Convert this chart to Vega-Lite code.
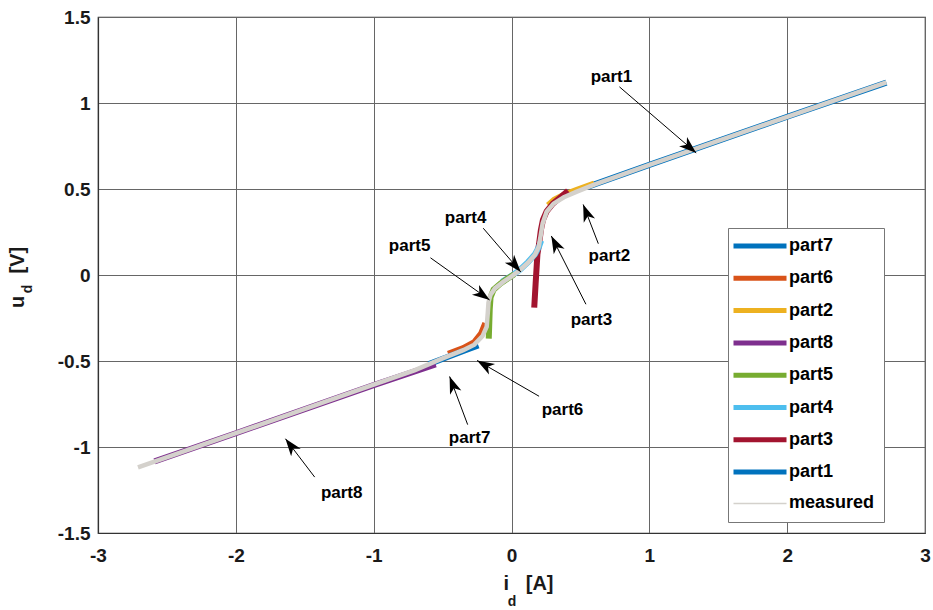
{
  "$schema": "https://vega.github.io/schema/vega-lite/v6.json",
  "width": 827,
  "height": 516,
  "autosize": {"type": "none"},
  "padding": {"left": 98, "top": 17, "right": 8, "bottom": 77},
  "background": "white",
  "config": {
    "font": "Liberation Sans",
    "view": {"stroke": "#333333", "strokeWidth": 1.2},
    "axis": {
      "labelFont": "Liberation Sans",
      "labelFontSize": 19,
      "labelFontWeight": "bold",
      "labelColor": "#1a1a1a",
      "titleFont": "Liberation Sans",
      "titleFontSize": 20,
      "titleFontWeight": "bold",
      "titleColor": "#1a1a1a",
      "grid": true,
      "gridColor": "#666666",
      "gridWidth": 1,
      "ticks": false,
      "domainColor": "#333333",
      "domainWidth": 1.2,
      "labelFlush": false,
      "labelOverlap": false
    },
    "legend": {
      "orient": "none",
      "legendX": 630,
      "legendY": 211,
      "labelFont": "Liberation Sans",
      "labelFontSize": 18,
      "labelFontWeight": "bold",
      "labelColor": "#000000",
      "symbolType": "M-2.65,0H2.65",
      "symbolSize": 400,
      "symbolStrokeWidth": 5,
      "strokeColor": "#777777",
      "fillColor": "white",
      "padding": 9,
      "rowPadding": 12.3,
      "symbolOffset": 14,
      "labelOffset": 20
    }
  },
  "datasets": {
    "parts": [
      {"series": "part1", "i": 0.55, "u": 0.512},
      {"series": "part1", "i": 1.0, "u": 0.64},
      {"series": "part1", "i": 2.0, "u": 0.92},
      {"series": "part1", "i": 2.72, "u": 1.118},
      {"series": "part2", "i": 0.265, "u": 0.405},
      {"series": "part2", "i": 0.31, "u": 0.437},
      {"series": "part2", "i": 0.38, "u": 0.466},
      {"series": "part2", "i": 0.47, "u": 0.494},
      {"series": "part2", "i": 0.6, "u": 0.532},
      {"series": "part3", "i": 0.165, "u": -0.19},
      {"series": "part3", "i": 0.175, "u": -0.05},
      {"series": "part3", "i": 0.188, "u": 0.12},
      {"series": "part3", "i": 0.2, "u": 0.18},
      {"series": "part3", "i": 0.213, "u": 0.26},
      {"series": "part3", "i": 0.228, "u": 0.32},
      {"series": "part3", "i": 0.255, "u": 0.37},
      {"series": "part3", "i": 0.3, "u": 0.415},
      {"series": "part3", "i": 0.36, "u": 0.455},
      {"series": "part3", "i": 0.41, "u": 0.49},
      {"series": "part4", "i": -0.07, "u": -0.04},
      {"series": "part4", "i": 0.0, "u": -0.005},
      {"series": "part4", "i": 0.06, "u": 0.03},
      {"series": "part4", "i": 0.12, "u": 0.075},
      {"series": "part4", "i": 0.17, "u": 0.12},
      {"series": "part4", "i": 0.2, "u": 0.165},
      {"series": "part4", "i": 0.215, "u": 0.2},
      {"series": "part5", "i": -0.165, "u": -0.37},
      {"series": "part5", "i": -0.162, "u": -0.3},
      {"series": "part5", "i": -0.158, "u": -0.2},
      {"series": "part5", "i": -0.152, "u": -0.13},
      {"series": "part5", "i": -0.13, "u": -0.085},
      {"series": "part5", "i": -0.08, "u": -0.05},
      {"series": "part5", "i": -0.03, "u": -0.022},
      {"series": "part5", "i": 0.02, "u": 0.005},
      {"series": "part6", "i": -0.46, "u": -0.458},
      {"series": "part6", "i": -0.35, "u": -0.425},
      {"series": "part6", "i": -0.27, "u": -0.39},
      {"series": "part6", "i": -0.22, "u": -0.34},
      {"series": "part6", "i": -0.19, "u": -0.28},
      {"series": "part7", "i": -0.6, "u": -0.518},
      {"series": "part7", "i": -0.45, "u": -0.472},
      {"series": "part7", "i": -0.33, "u": -0.436},
      {"series": "part7", "i": -0.24, "u": -0.41},
      {"series": "part8", "i": -2.59, "u": -1.084},
      {"series": "part8", "i": -2.0, "u": -0.92},
      {"series": "part8", "i": -1.0, "u": -0.64},
      {"series": "part8", "i": -0.55, "u": -0.52}
    ],
    "measured": [
      {"series": "measured", "i": -2.71, "u": -1.118},
      {"series": "measured", "i": -2.0, "u": -0.92},
      {"series": "measured", "i": -1.0, "u": -0.638},
      {"series": "measured", "i": -0.7, "u": -0.553},
      {"series": "measured", "i": -0.5, "u": -0.485},
      {"series": "measured", "i": -0.35, "u": -0.437},
      {"series": "measured", "i": -0.27, "u": -0.405},
      {"series": "measured", "i": -0.21, "u": -0.355},
      {"series": "measured", "i": -0.18, "u": -0.3},
      {"series": "measured", "i": -0.172, "u": -0.22},
      {"series": "measured", "i": -0.167, "u": -0.16},
      {"series": "measured", "i": -0.152, "u": -0.115},
      {"series": "measured", "i": -0.12, "u": -0.078},
      {"series": "measured", "i": -0.06, "u": -0.04},
      {"series": "measured", "i": 0.0, "u": -0.008},
      {"series": "measured", "i": 0.06, "u": 0.028},
      {"series": "measured", "i": 0.12, "u": 0.072},
      {"series": "measured", "i": 0.17, "u": 0.118},
      {"series": "measured", "i": 0.198, "u": 0.165},
      {"series": "measured", "i": 0.212, "u": 0.23},
      {"series": "measured", "i": 0.226, "u": 0.3},
      {"series": "measured", "i": 0.255, "u": 0.368},
      {"series": "measured", "i": 0.305, "u": 0.415},
      {"series": "measured", "i": 0.38, "u": 0.452},
      {"series": "measured", "i": 0.47, "u": 0.483},
      {"series": "measured", "i": 0.6, "u": 0.525},
      {"series": "measured", "i": 1.0, "u": 0.64},
      {"series": "measured", "i": 2.0, "u": 0.92},
      {"series": "measured", "i": 2.72, "u": 1.12}
    ],
    "labels": [
      {"label": "part1", "i": 0.725, "u": 1.151},
      {"label": "part2", "i": 0.71, "u": 0.11},
      {"label": "part3", "i": 0.58, "u": -0.262},
      {"label": "part4", "i": -0.333, "u": 0.331},
      {"label": "part5", "i": -0.739, "u": 0.169},
      {"label": "part6", "i": 0.37, "u": -0.785},
      {"label": "part7", "i": -0.304, "u": -0.948},
      {"label": "part8", "i": -1.232, "u": -1.267}
    ],
    "arrows": [
      {"name": "part1", "i": 1.34, "u": 0.71, "i2": 0.783, "u2": 1.094},
      {"name": "part2", "i": 0.52, "u": 0.41, "i2": 0.63, "u2": 0.182},
      {"name": "part3", "i": 0.289, "u": 0.227, "i2": 0.54, "u2": -0.17},
      {"name": "part4", "i": 0.067, "u": 0.018, "i2": -0.205, "u2": 0.272},
      {"name": "part5", "i": -0.159, "u": -0.145, "i2": -0.588, "u2": 0.1},
      {"name": "part6", "i": -0.25, "u": -0.497, "i2": 0.2, "u2": -0.705},
      {"name": "part7", "i": -0.449, "u": -0.59, "i2": -0.318, "u2": -0.87},
      {"name": "part8", "i": -1.64, "u": -0.952, "i2": -1.428, "u2": -1.175}
    ]
  },
  "encoding": {
    "x": {
      "field": "i",
      "type": "quantitative",
      "scale": {"domain": [-3, 3], "nice": false, "zero": false},
      "axis": {
        "values": [-3, -2, -1, 0, 1, 2, 3],
        "labelExpr": "'' + datum.value",
        "labelPadding": 13,
        "title": "i\u00a0\u00a0\u00a0[A]",
        "titleX": 430,
        "titleY": 56,
        "titleBaseline": "alphabetic",
        "titleAlign": "center"
      }
    },
    "y": {
      "field": "u",
      "type": "quantitative",
      "scale": {"domain": [-1.5, 1.5], "nice": false, "zero": false},
      "axis": {
        "values": [-1.5, -1, -0.5, 0, 0.5, 1, 1.5],
        "labelExpr": "'' + datum.value",
        "labelPadding": 8,
        "title": "u\u00a0\u00a0\u00a0\u00a0[V]",
        "titleAngle": 270,
        "titleX": -74.7,
        "titleY": 260,
        "titleBaseline": "alphabetic",
        "titleAlign": "center"
      }
    }
  },
  "layer": [
    {
      "data": {"name": "parts"},
      "mark": {"type": "line", "strokeWidth": 6},
      "encoding": {
        "color": {
          "field": "series",
          "type": "nominal",
          "scale": {
            "domain": ["part7", "part6", "part2", "part8", "part5", "part4", "part3", "part1", "measured"],
            "range": ["#0072BD", "#D95319", "#EDB120", "#7E2F8E", "#77AC30", "#4DBEEE", "#A2142F", "#0072BD", "#D4D1CC"]
          },
          "legend": {
            "title": null,
            "encode": {
              "symbols": {
                "update": {
                  "strokeWidth": {"signal": "datum.value === 'measured' ? 1.5 : 5"}
                }
              }
            }
          }
        }
      }
    },
    {
      "data": {"name": "measured"},
      "mark": {"type": "line", "strokeWidth": 4.5},
      "encoding": {
        "color": {"field": "series", "type": "nominal"}
      }
    },
    {
      "data": {"name": "arrows"},
      "mark": {"type": "rule", "color": "#000000", "strokeWidth": 1},
      "encoding": {
        "x2": {"field": "i2"},
        "y2": {"field": "u2"}
      }
    },
    {
      "data": {"name": "arrows"},
      "transform": [
        {"calculate": "atan2((datum.i - datum.i2) * 137.83, (datum.u - datum.u2) * 172) * 180 / PI", "as": "ang"}
      ],
      "mark": {"type": "point", "shape": "M0,0L-0.7,2L0,1.45L0.7,2Z", "size": 300, "filled": true, "color": "#000000", "opacity": 1, "strokeWidth": 0},
      "encoding": {
        "angle": {"field": "ang", "type": "quantitative", "scale": null}
      }
    },
    {
      "data": {"name": "labels"},
      "mark": {"type": "text", "fontSize": 17, "fontWeight": "bold", "color": "#000000", "align": "center", "baseline": "middle"},
      "encoding": {
        "text": {"field": "label"}
      }
    },
    {
      "data": {"values": [{"t": "d", "i": 0, "u": -1.5}]},
      "mark": {"type": "text", "fontSize": 14, "fontWeight": "bold", "color": "#1a1a1a", "align": "center", "baseline": "alphabetic", "dx": 0.5, "dy": 73},
      "encoding": {
        "text": {"field": "t"}
      }
    },
    {
      "data": {"values": [{"t": "d", "i": -3, "u": 0}]},
      "mark": {"type": "text", "fontSize": 14, "fontWeight": "bold", "color": "#1a1a1a", "align": "center", "baseline": "alphabetic", "angle": 270, "dx": -14, "dy": -66.3},
      "encoding": {
        "text": {"field": "t"}
      }
    }
  ]
}
